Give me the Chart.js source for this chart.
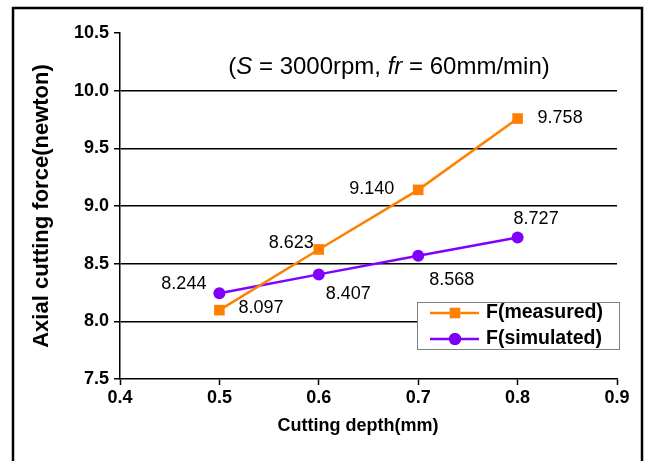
<!DOCTYPE html>
<html>
<head>
<meta charset="utf-8">
<script src="https://cdn.jsdelivr.net/npm/chart.js@4.4.0/dist/chart.umd.min.js"></script>
<style>
  html, body { margin: 0; padding: 0; background: #fff; }
  #wrap { width: 645px; height: 461px; }
</style>
</head>
<body>
<div id="wrap"><canvas id="forceChart" width="645" height="461"></canvas></div>
<script>
// values
const depth = [0.5, 0.6, 0.7, 0.8];
const measured = [8.097, 8.623, 9.140, 9.758];
const simulated = [8.244, 8.407, 8.568, 8.727];
const xTicks = [0.4, 0.5, 0.6, 0.7, 0.8, 0.9];
const yTicks = [7.5, 8.0, 8.5, 9.0, 9.5, 10.0, 10.5];

const FONT = "'Liberation Sans', Arial, Helvetica, sans-serif";
const ORANGE = '#ff7f00';
const PURPLE = '#7f00ff';

// where each value label sits relative to its point [dx, dy, align]
const labelSpots = [
    [[19, -2, 'left'], [-5, -6, 'right'], [-24, -1, 'right'], [20, -1, 'left']],
    [[-13, -9, 'right'], [7, 20, 'left'], [11, 24, 'left'], [-4, -18, 'left']]
];

function toPoints(ys) {
    return depth.map((x, i) => ({ x: x, y: ys[i] }));
}

const extras = {
    id: 'extras',
    afterDatasetsDraw(chart) {
        const ctx = chart.ctx;
        ctx.save();

        // value labels
        ctx.font = '18px ' + FONT;
        ctx.fillStyle = '#000';
        ctx.textBaseline = 'middle';
        chart.data.datasets.forEach((ds, di) => {
            chart.getDatasetMeta(di).data.forEach((pt, i) => {
                const spot = labelSpots[di][i];
                ctx.textAlign = spot[2];
                ctx.fillText(ds.data[i].y.toFixed(3), pt.x + spot[0], pt.y + spot[1]);
            });
        });

        // x axis title (sits a little left of the plot centre in the original)
        ctx.font = 'bold 18px ' + FONT;
        ctx.textAlign = 'center';
        ctx.fillText('Cutting depth(mm)', 358, 426);

        // condition note, S and fr in italics
        const parts = [['(', ''], ['S', 'italic '], [' = 3000rpm, ', ''], ['fr', 'italic '], [' = 60mm/min)', '']];
        let total = 0;
        parts.forEach(p => { ctx.font = p[1] + '24px ' + FONT; total += ctx.measureText(p[0]).width; });
        let x = 389 - total / 2;
        ctx.textAlign = 'left';
        parts.forEach(p => {
            ctx.font = p[1] + '24px ' + FONT;
            ctx.fillText(p[0], x, 67);
            x += ctx.measureText(p[0]).width;
        });

        // legend box inside the plot
        const lx = 417, ly = 302, lw = 202, lh = 47;
        ctx.fillStyle = '#fff';
        ctx.fillRect(lx, ly, lw, lh);
        ctx.strokeStyle = '#808080';
        ctx.lineWidth = 1;
        ctx.strokeRect(lx + 0.5, ly + 0.5, lw, lh);
        chart.data.datasets.forEach((ds, di) => {
            const ry = ly + 11 + di * 26;
            ctx.strokeStyle = ds.borderColor;
            ctx.lineWidth = 2.5;
            ctx.beginPath();
            ctx.moveTo(lx + 13, ry);
            ctx.lineTo(lx + 62, ry);
            ctx.stroke();
            Chart.helpers.drawPoint(ctx, {
                pointStyle: ds.pointStyle, radius: ds.pointRadius, borderWidth: 0, rotation: 0
            }, lx + 38, ry);
            ctx.fillStyle = ds.backgroundColor;
            ctx.fill();
            ctx.fillStyle = '#000';
            ctx.font = 'bold 19.5px ' + FONT;
            ctx.textAlign = 'left';
            ctx.fillText(ds.label, lx + 69, ry);
        });

        // outer frame
        ctx.strokeStyle = '#000';
        ctx.lineWidth = 2.5;
        ctx.strokeRect(13, 8, 629, 480);
        ctx.restore();
    }
};

new Chart(document.getElementById('forceChart'), {
    type: 'scatter',
    data: {
        datasets: [{
            label: 'F(measured)',
            data: toPoints(measured),
            showLine: true,
            borderColor: ORANGE,
            backgroundColor: ORANGE,
            borderWidth: 2.5,
            pointStyle: 'rect',
            pointRadius: 7.5,
            pointHoverRadius: 7.5,
            pointBorderWidth: 0
        }, {
            label: 'F(simulated)',
            data: toPoints(simulated),
            showLine: true,
            borderColor: PURPLE,
            backgroundColor: PURPLE,
            borderWidth: 2.5,
            pointStyle: 'circle',
            pointRadius: 6,
            pointHoverRadius: 6,
            pointBorderWidth: 0
        }]
    },
    options: {
        responsive: false,
        animation: false,
        layout: { padding: { left: 0, top: 33, right: 28, bottom: 0 } },
        plugins: {
            legend: { display: false },
            tooltip: { enabled: false }
        },
        scales: {
            x: {
                type: 'linear',
                min: 0.4,
                max: 0.9,
                afterBuildTicks: s => { s.ticks = xTicks.map(v => ({ value: v })); },
                afterFit: s => { s.height = 82; },
                grid: { drawOnChartArea: false, tickColor: '#000', tickLength: 6, tickWidth: 1.5 },
                border: { color: '#000', width: 1.5 },
                ticks: {
                    color: '#000',
                    padding: 2,
                    font: { family: FONT, size: 18, weight: 'bold' },
                    callback: v => v.toFixed(1)
                },
                title: { display: false }
            },
            y: {
                min: 7.5,
                max: 10.5,
                afterBuildTicks: s => { s.ticks = yTicks.map(v => ({ value: v })); },
                afterFit: s => { s.width = 120; },
                grid: {
                    color: c => (c.tick && c.tick.value > 7.6 && c.tick.value < 10.4) ? '#000' : 'rgba(0,0,0,0)',
                    lineWidth: 1.5,
                    tickColor: '#000',
                    tickLength: 6,
                    tickWidth: 1.5
                },
                border: { color: '#000', width: 1.5 },
                ticks: {
                    color: '#000',
                    padding: 5,
                    font: { family: FONT, size: 18, weight: 'bold' },
                    callback: v => v.toFixed(1)
                },
                title: {
                    display: true,
                    text: 'Axial cutting force(newton)',
                    color: '#000',
                    font: { family: FONT, size: 22, weight: 'bold' },
                    padding: { top: 29, bottom: 29 }
                }
            }
        }
    },
    plugins: [extras]
});
</script>
</body>
</html>
